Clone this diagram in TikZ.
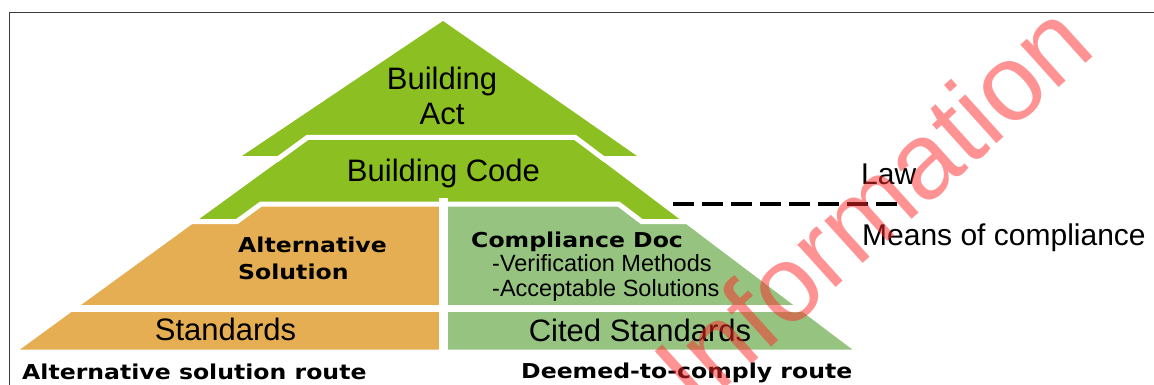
\documentclass[tikz,border=0pt]{standalone}
\usepackage{fontspec}
\setmainfont{Liberation Sans}
\newfontfamily\widebold{DejaVu Sans Bold}[FakeStretch=1.15]
\definecolor{actgreen}{RGB}{140,192,34}
\definecolor{altorange}{RGB}{229,174,82}
\definecolor{docgreen}{RGB}{150,196,128}
\definecolor{framegray}{RGB}{60,60,60}
\definecolor{wmred}{RGB}{255,40,40}
\begin{document}
\begin{tikzpicture}[x=1pt,y=-1pt,
  gapline/.style={draw=white, line width=5pt, line join=miter},
  big/.style={font=\fontsize{31}{35}\selectfont, inner sep=0pt, text=black},
  mid/.style={font=\fontsize{23.5}{27}\selectfont, inner sep=0pt, text=black},
  side/.style={font=\fontsize{30}{34}\selectfont, inner sep=0pt, text=black},
  bold/.style={font=\widebold\fontsize{20.5}{24}\selectfont, inner sep=0pt, text=black}]
\useasboundingbox (0,0) rectangle (1154,385);
\fill[white] (0,0) rectangle (1154,385);
% frame
\draw[framegray, line width=1.5pt] (9.5,385) -- (9.5,12.5) -- (1154,12.5);
% layers
\fill[actgreen] (443,21) -- (242,156) -- (637,156) -- cycle;
\fill[actgreen] (311.4,137.5) -- (571.3,137.5) -- (682.6,221.5) -- (195.9,221.5) -- cycle;
\fill[altorange] (261,204) -- (443.5,204) -- (443.5,308.3) -- (76.6,308.3) -- (195.9,221.5) -- (236.9,221.5) -- cycle;
\fill[docgreen] (443.5,204) -- (618.5,204) -- (641.6,221.5) -- (682.6,221.5) -- (797.6,308.3) -- (443.5,308.3) -- cycle;
\fill[altorange] (76.6,308.3) -- (443.5,308.3) -- (443.5,349.5) -- (20.1,349.5) -- cycle;
\fill[docgreen] (443.5,308.3) -- (797.6,308.3) -- (852.3,349.5) -- (443.5,349.5) -- cycle;
% gaps
\draw[gapline] (276.5,160) -- (307.4,137.5) -- (575.3,137.5) -- (605.2,160);
\draw[gapline] (190,221.5) -- (236.9,221.5) -- (261,204) -- (618.5,204) -- (641.6,221.5) -- (690,221.5);
\draw[draw=white, line width=6.5pt] (15,308.3) -- (870,308.3);
\draw[draw=white, line width=8.4pt] (443.5,198) -- (443.5,356);
% dashed separator
\coordinate (dashA) at (673,204);
\coordinate (dashB) at (898,204);
\draw[black, line width=4pt, dash pattern=on 21pt off 8pt] (dashA) -- (dashB);
% texts
\node[big, anchor=base] (bld) at (442,90) {Building};
\node[big, anchor=base] (act) at (442,125) {Act};
\node[big, anchor=base] (code) at (443.5,181.7) {Building Code};
\node[bold, anchor=base west] (alt1) at (238,252) {Alternative};
\node[bold, anchor=base west] (alt2) at (238,279) {Solution};
\node[bold, anchor=base west] (cdoc) at (471,247) {Compliance Doc};
\node[mid, anchor=base west] (ver) at (492,271.7) {-Verification Methods};
\node[mid, anchor=base west] (acc) at (492,296.7) {-Acceptable Solutions};
\node[big, anchor=base] (std) at (225.5,340) {Standards};
\node[big, anchor=base] (cstd) at (640,341.7) {Cited Standards};
\node[bold, anchor=base west] (route1) at (22,379.5) {Alternative solution route};
\node[bold, anchor=base west] (route2) at (521,378.5) {Deemed-to-comply route};
\node[side, anchor=base west] (law) at (861,185) {Law};
\node[side, anchor=base west] (means) at (862,245) {Means of compliance};
% watermark
\begin{scope}
\clip (0,0) rectangle (1154,385);
\node[rotate=42, text=wmred, opacity=0.5, inner sep=0pt, font=\fontsize{108}{108}\selectfont] (wm) at (872,204) {Information};
\end{scope}
\end{tikzpicture}
\end{document}
